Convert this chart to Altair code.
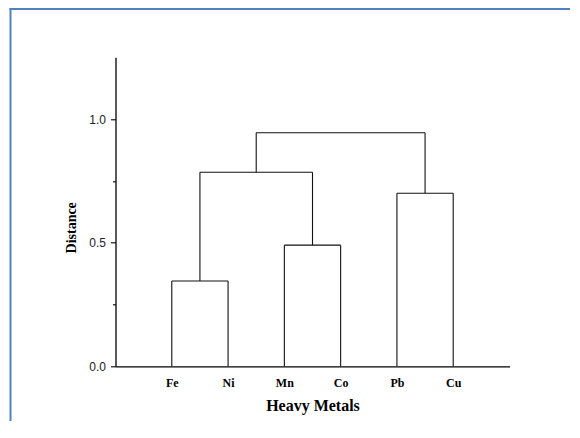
import json
import altair as alt
import pandas as pd

# Leaves of the dendrogram (left to right)
leaves = ["Fe", "Ni", "Mn", "Co", "Pb", "Cu"]
# Linkage: children ids (0-5 leaves, 6+ clusters in creation order) and merge distance
merge_left = [0, 2, 4, 6, 9]
merge_right = [1, 3, 5, 7, 8]
merge_height = [0.345, 0.49, 0.70, 0.785, 0.945]

y_ticks = [0.0, 0.25, 0.5, 0.75, 1.0]

# Build dendrogram segments from the linkage
node_x = [i + 1 for i in range(len(leaves))]
node_h = [0.0] * len(leaves)
rows = []
for l, r, h in zip(merge_left, merge_right, merge_height):
    xl, xr = node_x[l], node_x[r]
    rows.append({"x": xl, "x2": xl, "y": node_h[l], "y2": h})
    rows.append({"x": xr, "x2": xr, "y": node_h[r], "y2": h})
    rows.append({"x": xl, "x2": xr, "y": h, "y2": h})
    node_x.append((xl + xr) / 2)
    node_h.append(h)
seg = pd.DataFrame(rows)

label_expr = "%s[datum.value] || ''" % json.dumps([""] + leaves)

serif = "Liberation Serif"
sans = "Liberation Sans"

lines = alt.Chart(seg).mark_rule(color="#111111", strokeWidth=1.1).encode(
    x=alt.X(
        "x:Q",
        scale=alt.Scale(domain=[0, 7], nice=False, zero=False),
        axis=alt.Axis(
            values=list(range(1, len(leaves) + 1)),
            labelExpr=label_expr,
            ticks=False,
            tickSize=0,
            grid=False,
            domainColor="#000000",
            domainWidth=1.3,
            labelFont=serif,
            labelFontWeight="bold",
            labelFontSize=12,
            labelColor="#000000",
            labelPadding=11,
            title="Heavy Metals",
            titleFont=serif,
            titleFontWeight="bold",
            titleFontSize=16,
            titleColor="#000000",
            titlePadding=9,
        ),
    ),
    x2="x2:Q",
    y=alt.Y(
        "y:Q",
        scale=alt.Scale(domain=[0, 1.25], nice=False),
        axis=alt.Axis(
            values=y_ticks,
            labelExpr="datum.value % 0.5 == 0 ? format(datum.value, '.1f') : ''",
            tickSize={"condition": {"test": "datum.value % 0.5 != 0", "value": 3}, "value": 5},
            tickColor="#000000",
            tickWidth=1.1,
            grid=False,
            domainColor="#000000",
            domainWidth=1.3,
            labelFont=sans,
            labelFontSize=12,
            labelColor="#222222",
            labelPadding=5,
            title="Distance",
            titleFont=serif,
            titleFontWeight="bold",
            titleFontSize=14,
            titleColor="#000000",
            titlePadding=10,
            titleY=170,
        ),
    ),
    y2="y2:Q",
)

# Decorative blue frame (top and left edges of the surrounding figure box)
one = pd.DataFrame({"k": [0]})
frame_top = alt.Chart(one).mark_rule(color="#4F81BD", strokeWidth=2).encode(
    x=alt.value(-106), x2=alt.value(460), y=alt.value(-48.3), y2=alt.value(-48.3)
)
frame_left = alt.Chart(one).mark_rule(color="#4F81BD", strokeWidth=2).encode(
    x=alt.value(-105), x2=alt.value(-105), y=alt.value(-49.3), y2=alt.value(364)
)

chart = alt.layer(frame_top, frame_left, lines).properties(
    width=394,
    height=309,
    padding={"left": 107.5, "top": 49.3, "right": 60, "bottom": 55},
    autosize=alt.AutoSizeParams(type="none"),
    background="white",
).configure_view(stroke=None)

chart.save("out.html", embed_options={"renderer": "svg", "actions": False})
